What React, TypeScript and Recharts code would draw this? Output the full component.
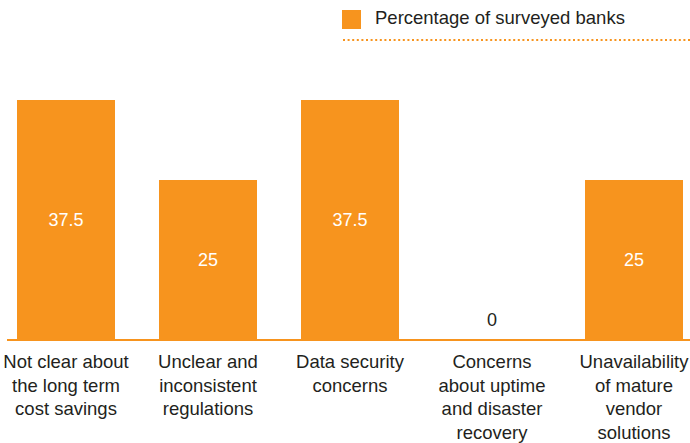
import { BarChart, Bar, XAxis, YAxis, LabelList, Legend, ReferenceLine } from 'recharts';

const categories = [
  'Not clear about\nthe long term\ncost savings',
  'Unclear and\ninconsistent\nregulations',
  'Data security\nconcerns',
  'Concerns\nabout uptime\nand disaster\nrecovery',
  'Unavailability\nof mature\nvendor\nsolutions',
];
const percentages = [37.5, 25, 37.5, 0, 25];
const seriesName = 'Percentage of surveyed banks';

const ORANGE = '#F7941E';
const TEXT = '#231F20';
const FONT = '"Liberation Sans", Arial, Helvetica, sans-serif';

const chartData = categories.map((label, i) => ({ label, value: percentages[i] }));

function CategoryTick({ x, y, payload }: any) {
  const lines = String(payload.value).split('\n');
  return (
    <text x={x} y={y} textAnchor="middle" fill={TEXT} fontSize={18.5} fontFamily={FONT}>
      {lines.map((line, i) => (
        <tspan key={i} x={x} dy={i === 0 ? 20 : 23.5}>
          {line}
        </tspan>
      ))}
    </text>
  );
}

function ValueLabel({ x, y, width, height, value }: any) {
  const cx = x + width / 2;
  if (!value) {
    // empty bar: the value sits just above the baseline
    return (
      <text x={cx} y={y + height - 14} textAnchor="middle" fill={TEXT} fontSize={18} fontFamily={FONT}>
        {String(value)}
      </text>
    );
  }
  return (
    <text x={cx} y={y + height / 2} textAnchor="middle" dominantBaseline="central" fill="#fff" fontSize={18} fontFamily={FONT}>
      {value}
    </text>
  );
}

function LegendBox({ payload }: any) {
  const item = payload && payload[0];
  return (
    <div style={{ position: 'relative', height: 42, fontFamily: FONT }}>
      <div style={{ position: 'absolute', left: 0, top: 10, width: 19, height: 19, background: ORANGE }} />
      <div style={{ position: 'absolute', left: 33, top: 7, fontSize: 18.5, color: TEXT, whiteSpace: 'nowrap' }}>
        {item ? item.value : seriesName}
      </div>
      <svg style={{ position: 'absolute', left: 0, top: 38 }} width={348} height={4}>
        <line x1={1} y1={2} x2={348} y2={2} stroke={ORANGE} strokeWidth={2} strokeDasharray="2 2.6" />
      </svg>
    </div>
  );
}

function Baseline(props: any) {
  const { x1, y1, x2 } = props;
  return <line x1={x1 + 12} y1={y1} x2={x2} y2={y1} stroke={ORANGE} strokeWidth={2} />;
}

export default function App() {
  return (
    <div style={{ position: 'fixed', left: 0, top: 0, width: 690, height: 443, overflow: 'hidden', background: '#fff' }}>
      <BarChart
        width={690}
        height={443}
        data={chartData}
        margin={{ top: 58, right: -15, bottom: 3, left: -5 }}
      >
        <XAxis dataKey="label" axisLine={false} tickLine={false} height={100} interval={0} tick={<CategoryTick />} />
        <YAxis hide domain={[0, 37.5]} />
        <Legend
          verticalAlign="top"
          content={<LegendBox />}
          wrapperStyle={{ left: 342, top: 0, width: 348 }}
        />
        <Bar dataKey="value" name={seriesName} fill={ORANGE} barSize={98} minPointSize={1} isAnimationActive={false}>
          <LabelList dataKey="value" content={<ValueLabel />} />
        </Bar>
        <ReferenceLine y={0} shape={<Baseline />} />
      </BarChart>
    </div>
  );
}
